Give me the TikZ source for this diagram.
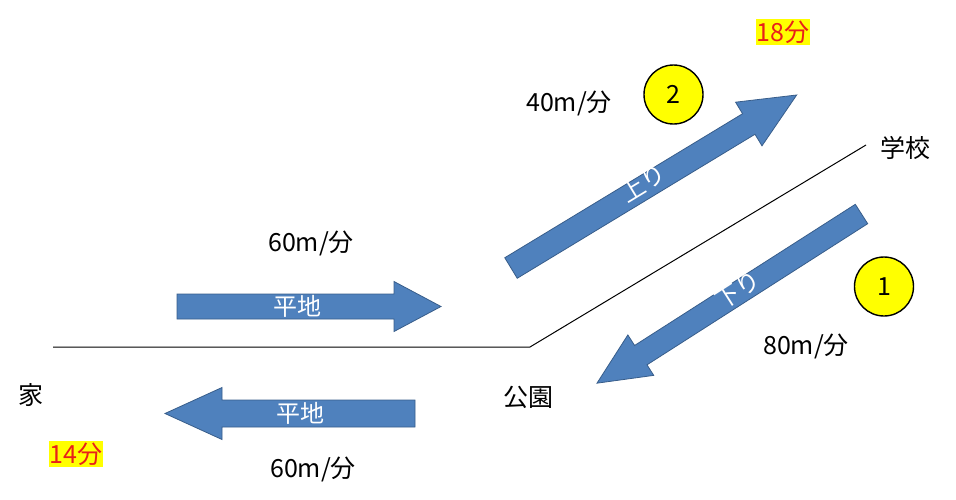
\documentclass[tikz,border=0pt]{standalone}
\usepackage{fontspec}
\setmainfont{Noto Sans CJK JP}
\definecolor{arrowfill}{HTML}{4F81BD}
\definecolor{arrowdraw}{HTML}{385D8A}
\definecolor{hilite}{HTML}{FFFF00}
\definecolor{redtxt}{HTML}{E8201A}
\begin{document}
\begin{tikzpicture}[x=1pt,y=-1pt,
  txt/.style={font=\fontsize{25}{28}\selectfont, inner sep=0pt},
  wtxt/.style={font=\fontsize{24}{27}\selectfont, text=white, inner sep=0pt},
  blk/.style={fill=arrowfill, draw=arrowdraw, line width=0.8pt, line join=miter},
  badge/.style={circle, draw=black, line width=1.4pt, fill=hilite, minimum size=59pt, inner sep=0pt, font=\fontsize{25}{28}\selectfont},
  timebox/.style={fill=hilite, text=redtxt, font=\fontsize{25}{28}\selectfont, inner xsep=1pt, inner ysep=2pt},
  road/.style={draw=black, line width=1pt}]
\useasboundingbox (0,0) rectangle (956,499);
% road
\coordinate (home) at (53,347);
\coordinate (park) at (530,347);
\coordinate (school) at (866,145);
\draw[road] (home) -- (park) -- (school);
% flat arrow right
\begin{scope}[shift={(177,306.5)}]
\path[blk] (0,-12.5) -- (217,-12.5) -- (217,-25) -- (264,0) -- (217,25) -- (217,12.5) -- (0,12.5) -- cycle;
\end{scope}
% flat arrow left
\begin{scope}[shift={(415,413.5)}, rotate=180]
\path[blk] (0,-13.5) -- (193,-13.5) -- (193,-26) -- (250,0) -- (193,26) -- (193,13.5) -- (0,13.5) -- cycle;
\end{scope}
% up arrow
\begin{scope}[shift={(511,268)}, rotate=31.2]
\path[blk] (0,-12) -- (278,-12) -- (278,-25.5) -- (334,0) -- (278,25.5) -- (278,12) -- (0,12) -- cycle;
\end{scope}
% down arrow
\begin{scope}[shift={(861.5,214)}, rotate=212.6]
\path[blk] (0,-11.5) -- (262,-11.5) -- (262,-24) -- (314,0) -- (262,24) -- (262,11.5) -- (0,11.5) -- cycle;
\end{scope}
% arrow labels
\node[wtxt] (flat1) at (297,306) {平地};
\node[wtxt] (flat2) at (300,413) {平地};
\node[wtxt, rotate=31.2] (up) at (643,183) {上り};
\node[wtxt, rotate=32.6] (down) at (738,290) {下り};
% place labels
\node[txt] (ie) at (31,395) {家};
\node[txt] (koen) at (528,397) {公園};
\node[txt] (gakko) at (905,148) {学校};
% speeds
\node[txt] (sp1) at (311,243) {60m/分};
\node[txt] (sp2) at (313,469) {60m/分};
\node[txt] (sp3) at (569,103) {40m/分};
\node[txt] (sp4) at (806,346) {80m/分};
% badges
\node[badge] (b2) at (673.5,94.5) {2};
\node[badge] (b1) at (884,286.5) {1};
% times
\node[timebox] (t14) at (76,454) {14分};
\node[timebox] (t18) at (783,32) {18分};
\end{tikzpicture}
\end{document}
